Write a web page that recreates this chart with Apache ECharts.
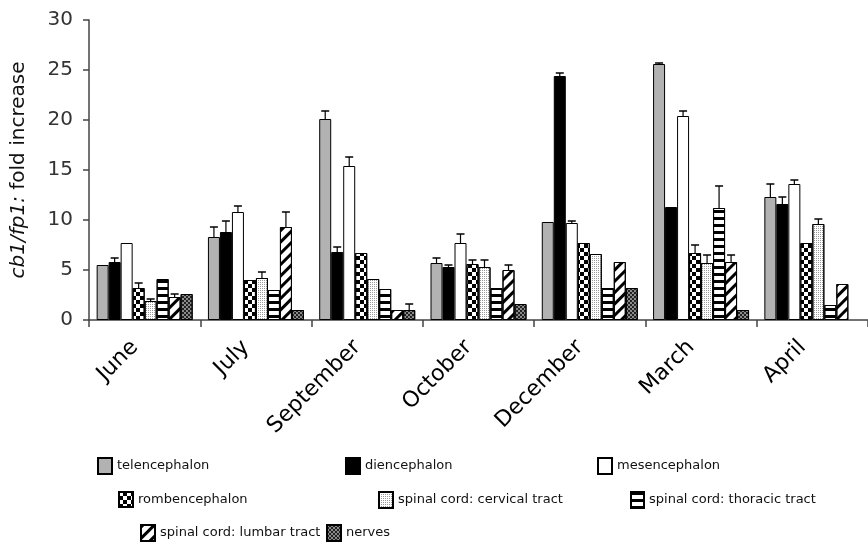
<!DOCTYPE html>
<html>
<head>
<meta charset="utf-8">
<script src="https://cdn.jsdelivr.net/npm/echarts@6/dist/echarts.min.js"></script>
<style>html,body{margin:0;padding:0;background:#fff}#c{width:868px;height:548px}</style>
</head>
<body>
<div id="c"></div>
<script>
const categories = ['June','July','September','October','December','March','April'];
const yTicks = [0,5,10,15,20,25,30];

const telencephalon = [5.5, 8.3, 20.1, 5.7, 9.8, 25.6, 12.3];
const telencephalonErr = [null, 9.3, 20.9, 6.2, null, 25.7, 13.6];
const diencephalon = [5.8, 8.8, 6.8, 5.3, 24.4, 11.3, 11.6];
const diencephalonErr = [6.2, 9.9, 7.3, 5.5, 24.7, null, 12.3];
const mesencephalon = [7.7, 10.8, 15.4, 7.7, 9.7, 20.4, 13.6];
const mesencephalonErr = [null, 11.4, 16.3, 8.6, 9.9, 20.9, 14.0];
const rombencephalon = [3.2, 4.0, 6.7, 5.6, 7.7, 6.7, 7.7];
const rombencephalonErr = [3.7, null, null, 6.0, null, 7.5, null];
const cervical = [1.9, 4.2, 4.1, 5.3, 6.6, 5.7, 9.6];
const cervicalErr = [2.1, 4.8, null, 6.0, null, 6.5, 10.1];
const thoracic = [4.1, 3.0, 3.1, 3.2, 3.2, 11.2, 1.5];
const thoracicErr = [null, null, null, null, null, 13.4, null];
const lumbar = [2.3, 9.3, 1.0, 5.0, 5.8, 5.8, 3.6];
const lumbarErr = [2.6, 10.8, null, 5.5, null, 6.5, null];
const nerves = [2.6, 1.0, 1.0, 1.6, 3.2, 1.0, null];
const nervesErr = [null, null, 1.6, null, null, null, null];

const seriesNames = ['telencephalon','diencephalon','mesencephalon','rombencephalon',
  'spinal cord: cervical tract','spinal cord: thoracic tract','spinal cord: lumbar tract','nerves'];
const seriesValues = [telencephalon, diencephalon, mesencephalon, rombencephalon, cervical, thoracic, lumbar, nerves];
const seriesErrs = [telencephalonErr, diencephalonErr, mesencephalonErr, rombencephalonErr, cervicalErr, thoracicErr, lumbarErr, nervesErr];

const styles = [
  {color:'#b2b2b2'},
  {color:'#000000'},
  {color:'#ffffff'},
  {color:'#ffffff', decal:{symbol:'rect', symbolSize:1, color:'#000', dashArrayX:[[4,4],[0,4,4,0]], dashArrayY:[4,0]}},
  {color:'#ffffff', decal:{symbol:'rect', symbolSize:1, color:'#999', dashArrayX:[1,1], dashArrayY:[1,1]}},
  {color:'#ffffff', decal:{symbol:'rect', symbolSize:1, color:'#000', dashArrayX:[1,0], dashArrayY:[3,4]}},
  {color:'#ffffff', decal:{symbol:'rect', symbolSize:1, color:'#000', dashArrayX:[1,0], dashArrayY:[3,5], rotation:-Math.PI/4}},
  {color:'#8a8a8a', decal:{symbol:'rect', symbolSize:1, color:'#222', dashArrayX:[[2,2],[0,2,2,0]], dashArrayY:[2,0]}}
];

const BW = 12;
const FONT = 'DejaVu Sans';

const series = seriesNames.map((n, s) => ({
  name: n, type: 'bar', data: seriesValues[s], barWidth: BW, barGap: '0%',
  itemStyle: Object.assign({borderColor:'#000', borderWidth:1}, styles[s]),
  emphasis: {disabled: true}, animation: false
}));

const errData = [];
seriesErrs.forEach((arr, s) => arr.forEach((e, i) => {
  if (e != null) errData.push([i, seriesValues[s][i], e, s]);
}));

series.push({
  name: 'err', type: 'custom', z: 5, animation: false, silent: true,
  data: errData,
  renderItem: function (params, api) {
    const i = api.value(0), m = api.value(1), e = api.value(2), s = api.value(3);
    const c = api.coord([i, 0]);
    const x = c[0] - 4 * BW + s * BW + BW / 2;
    const y1 = api.coord([i, m])[1];
    const y2 = api.coord([i, e])[1];
    return {type: 'group', children: [
      {type:'line', shape:{x1:x, y1:y1, x2:x, y2:y2}, style:{stroke:'#000', lineWidth:1.2}},
      {type:'line', shape:{x1:x - 4, y1:y2, x2:x + 4, y2:y2}, style:{stroke:'#000', lineWidth:1.5}}
    ]};
  }
});

// legend items: [name index, iconLeft, iconTop, w, h]
const legendPos = [
  [0, 97, 457, 14, 16],
  [1, 345, 457, 14, 16],
  [2, 597, 457, 14, 16],
  [3, 118, 491, 14, 15],
  [4, 378, 491, 14, 16],
  [5, 630, 491, 13, 16],
  [6, 140, 524, 14, 16],
  [7, 326, 524, 14, 16]
];
const legends = legendPos.map(p => ({
  data: [seriesNames[p[0]]], left: p[1], top: p[2], itemWidth: p[3], itemHeight: p[4],
  padding: 0, selectedMode: false, icon: 'rect',
  textStyle: {fontFamily: FONT, fontSize: 13, color: '#111'}
}));

const chart = echarts.init(document.getElementById('c'), null, {renderer: 'canvas'});
chart.setOption({
  backgroundColor: '#fff',
  animation: false,
  legend: legends,
  grid: {left: 89, right: -8, top: 20, bottom: 228, containLabel: false},
  xAxis: {
    type: 'category', data: categories,
    axisLine: {lineStyle: {color: '#444', width: 1.5}},
    axisTick: {show: true, length: 7, lineStyle: {color: '#444', width: 1.5}},
    axisLabel: {rotate: 45, margin: 14, fontFamily: FONT, fontSize: 22, color: '#000', interval: 0,
      padding: [0, 14, 0, 0]}
  },
  yAxis: {
    type: 'value', min: 0, max: 30, interval: 5,
    name: '{i|cb1/fp1:} fold increase', nameLocation: 'middle', nameGap: 60,
    nameTextStyle: {fontFamily: FONT, fontSize: 20, color: '#111',
      rich: {i: {fontFamily: FONT, fontSize: 20, fontStyle: 'italic', color: '#111'}}},
    axisLine: {show: true, lineStyle: {color: '#444', width: 1.5}},
    axisTick: {show: true, length: 6, lineStyle: {color: '#444', width: 1.5}},
    axisLabel: {margin: 16, fontFamily: FONT, fontSize: 20, color: '#333',
      formatter: v => yTicks.indexOf(v) >= 0 ? String(v) : ''},
    splitLine: {show: false}
  },
  series: series
});
</script>
</body>
</html>
